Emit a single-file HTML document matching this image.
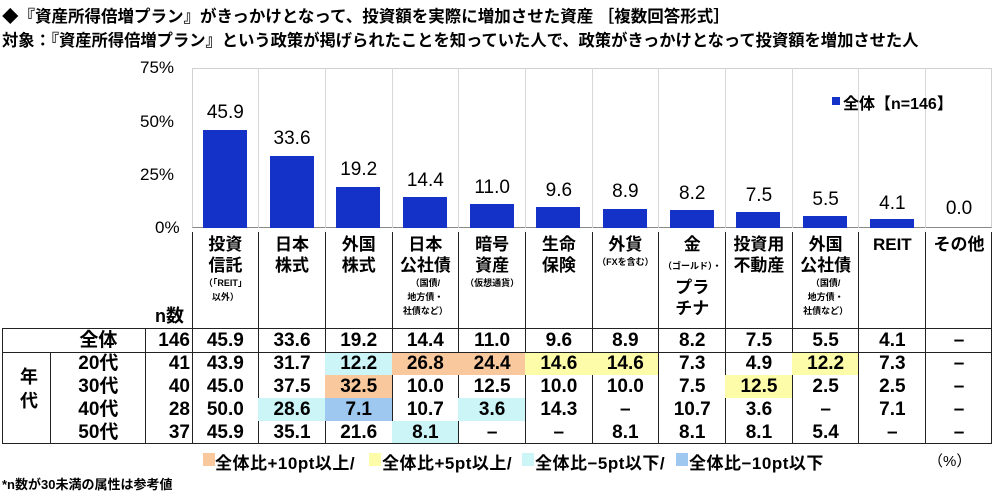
<!DOCTYPE html><html><head><meta charset="utf-8"><style>
body{margin:0;width:1000px;height:500px;background:#fff;position:relative;overflow:hidden;font-family:"Liberation Sans","Noto Sans CJK JP",sans-serif;font-weight:bold;color:#000}
.a{position:absolute}
.t{position:absolute;white-space:nowrap}
.bar{position:absolute;background:#1432c8;width:44px}
.v{position:absolute;width:66.7px;text-align:center;font-size:19px;font-weight:normal}
.h{position:absolute;width:66.7px;text-align:center;font-size:17px;line-height:21px;top:234px}
.h small{display:block;font-size:9px;line-height:14px}
.c{position:absolute;width:66.7px;height:22.8px;text-align:center;font-size:19px;line-height:23px}
.gl{position:absolute;width:1px;background:#d8d8d8;top:68px;height:160px}
.vl{position:absolute;width:1px;background:#222;top:232px;height:212px}
.lg{position:absolute;white-space:nowrap;font-size:17px;top:449px;letter-spacing:0.5px}
</style></head><body>
<div class="t" style="left:2px;top:3px;font-size:16.5px">◆『資産所得倍増プラン』がきっかけとなって、投資額を実際に増加させた資産 ［複数回答形式］</div>
<div class="t" style="left:2px;top:27px;font-size:16.3px">対象：『資産所得倍増プラン』という政策が掲げられたことを知っていた人で、政策がきっかけとなって投資額を増加させた人</div>
<div class="t" style="left:140px;top:58px;font-size:17px;font-weight:normal">75%</div>
<div class="t" style="left:140px;top:112px;font-size:17px;font-weight:normal">50%</div>
<div class="t" style="left:140px;top:165px;font-size:17px;font-weight:normal">25%</div>
<div class="t" style="left:155px;top:218px;font-size:17px;font-weight:normal">0%</div>
<div class="a" style="left:192px;top:68px;width:800px;height:160px;border:1px solid #d0d0d0;border-bottom:1px solid #888;box-sizing:border-box"></div>
<div class="gl" style="left:258px"></div><div class="gl" style="left:325px"></div><div class="gl" style="left:392px"></div><div class="gl" style="left:458px"></div><div class="gl" style="left:525px"></div><div class="gl" style="left:592px"></div><div class="gl" style="left:658px"></div><div class="gl" style="left:725px"></div><div class="gl" style="left:792px"></div><div class="gl" style="left:858px"></div><div class="gl" style="left:925px"></div>
<div class="a" style="left:832px;top:97px;width:8px;height:8px;background:#1432c8"></div>
<div class="t" style="left:843px;top:90px;font-size:16px">全体【n=146】</div>
<div class="bar" style="left:203px;top:130px;height:98px"></div>
<div class="bar" style="left:270px;top:156px;height:72px"></div>
<div class="bar" style="left:336px;top:187px;height:41px"></div>
<div class="bar" style="left:403px;top:197px;height:31px"></div>
<div class="bar" style="left:470px;top:204px;height:24px"></div>
<div class="bar" style="left:536px;top:207px;height:21px"></div>
<div class="bar" style="left:603px;top:209px;height:19px"></div>
<div class="bar" style="left:670px;top:210px;height:18px"></div>
<div class="bar" style="left:736px;top:212px;height:16px"></div>
<div class="bar" style="left:803px;top:216px;height:12px"></div>
<div class="bar" style="left:870px;top:219px;height:9px"></div>
<div class="v" style="left:192px;top:102px">45.9</div>
<div class="v" style="left:258.7px;top:128px">33.6</div>
<div class="v" style="left:325.4px;top:159px">19.2</div>
<div class="v" style="left:392px;top:170px">14.4</div>
<div class="v" style="left:458.8px;top:177px">11.0</div>
<div class="v" style="left:525.5px;top:180px">9.6</div>
<div class="v" style="left:592px;top:181px">8.9</div>
<div class="v" style="left:658.9px;top:183px">8.2</div>
<div class="v" style="left:725.6px;top:185px">7.5</div>
<div class="v" style="left:792.3px;top:189px">5.5</div>
<div class="v" style="left:859px;top:193px">4.1</div>
<div class="v" style="left:925.7px;top:198px">0.0</div>
<div class="vl" style="left:192px"></div><div class="vl" style="left:258px"></div><div class="vl" style="left:325px"></div><div class="vl" style="left:392px"></div><div class="vl" style="left:458px"></div><div class="vl" style="left:525px"></div><div class="vl" style="left:592px"></div><div class="vl" style="left:658px"></div><div class="vl" style="left:725px"></div><div class="vl" style="left:792px"></div><div class="vl" style="left:858px"></div><div class="vl" style="left:925px"></div><div class="vl" style="left:991px"></div>
<div class="h" style="left:192px">投資<br>信託<small>（「REIT」<br>以外）</small></div>
<div class="h" style="left:258.7px">日本<br>株式</div>
<div class="h" style="left:325.4px">外国<br>株式</div>
<div class="h" style="left:392px">日本<br>公社債<small>（国債/<br>地方債・<br>社債など）</small></div>
<div class="h" style="left:458.8px">暗号<br>資産<small>（仮想通貨）</small></div>
<div class="h" style="left:525.5px">生命<br>保険</div>
<div class="h" style="left:592px">外貨<small>（FXを含む）</small></div>
<div class="h" style="left:658.9px">金<small style="margin:4px 0">（ゴールド）・</small>プラ<br>チナ</div>
<div class="h" style="left:725.6px">投資用<br>不動産</div>
<div class="h" style="left:792.3px">外国<br>公社債<small>（国債/<br>地方債・<br>社債など）</small></div>
<div class="h" style="left:859px">REIT</div>
<div class="h" style="left:925.7px">その他</div>
<div class="t" style="left:155px;top:302px;font-size:18px">n数</div>
<div class="a" style="left:325px;top:352px;width:67px;height:23px;background:#ccf5f8"></div>
<div class="a" style="left:392px;top:352px;width:133px;height:23px;background:#f9c89c"></div>
<div class="a" style="left:525px;top:352px;width:133px;height:23px;background:#fdfca8"></div>
<div class="a" style="left:792px;top:352px;width:66px;height:23px;background:#fdfca8"></div>
<div class="a" style="left:325px;top:375px;width:67px;height:23px;background:#f9c89c"></div>
<div class="a" style="left:725px;top:375px;width:67px;height:23px;background:#fdfca8"></div>
<div class="a" style="left:258px;top:398px;width:67px;height:23px;background:#ccf5f8"></div>
<div class="a" style="left:325px;top:398px;width:67px;height:23px;background:#9fc8f0"></div>
<div class="a" style="left:458px;top:398px;width:67px;height:23px;background:#ccf5f8"></div>
<div class="a" style="left:392px;top:421px;width:66px;height:22px;background:#ccf5f8"></div>
<div class="a" style="left:2px;top:328px;width:990px;height:116px;border:1px solid #222;box-sizing:border-box"></div>
<div class="a" style="left:2px;top:352px;width:990px;height:1px;background:#222"></div>
<div class="a" style="left:50px;top:352px;width:1px;height:92px;background:#222"></div>
<div class="a" style="left:145px;top:328px;width:1px;height:116px;background:#222"></div>
<div class="t" style="left:20px;top:365px;font-size:18px;line-height:24px">年<br>代</div>
<div style="position:absolute;left:0;top:329px;font-size:18px">
<div class="c" style="left:65px;top:0">全体</div>
<div class="c" style="left:65px;top:23px">20代</div>
<div class="c" style="left:65px;top:46px">30代</div>
<div class="c" style="left:65px;top:69px">40代</div>
<div class="c" style="left:65px;top:92px">50代</div>
</div>
<div style="position:absolute;left:0;top:329px">
<div class="c" style="left:145px;top:0;width:45px;text-align:right">146</div><div class="c" style="left:145px;top:23px;width:45px;text-align:right">41</div><div class="c" style="left:145px;top:46px;width:45px;text-align:right">40</div><div class="c" style="left:145px;top:69px;width:45px;text-align:right">28</div><div class="c" style="left:145px;top:92px;width:45px;text-align:right">37</div>
<div class="c" style="left:192px;top:0">45.9</div><div class="c" style="left:258.7px;top:0">33.6</div><div class="c" style="left:325.4px;top:0">19.2</div><div class="c" style="left:392px;top:0">14.4</div><div class="c" style="left:458.8px;top:0">11.0</div><div class="c" style="left:525.5px;top:0">9.6</div><div class="c" style="left:592px;top:0">8.9</div><div class="c" style="left:658.9px;top:0">8.2</div><div class="c" style="left:725.6px;top:0">7.5</div><div class="c" style="left:792.3px;top:0">5.5</div><div class="c" style="left:859px;top:0">4.1</div><div class="c" style="left:925.7px;top:0">–</div>
<div class="c" style="left:192px;top:23px">43.9</div><div class="c" style="left:258.7px;top:23px">31.7</div><div class="c" style="left:325.4px;top:23px">12.2</div><div class="c" style="left:392px;top:23px">26.8</div><div class="c" style="left:458.8px;top:23px">24.4</div><div class="c" style="left:525.5px;top:23px">14.6</div><div class="c" style="left:592px;top:23px">14.6</div><div class="c" style="left:658.9px;top:23px">7.3</div><div class="c" style="left:725.6px;top:23px">4.9</div><div class="c" style="left:792.3px;top:23px">12.2</div><div class="c" style="left:859px;top:23px">7.3</div><div class="c" style="left:925.7px;top:23px">–</div>
<div class="c" style="left:192px;top:46px">45.0</div><div class="c" style="left:258.7px;top:46px">37.5</div><div class="c" style="left:325.4px;top:46px">32.5</div><div class="c" style="left:392px;top:46px">10.0</div><div class="c" style="left:458.8px;top:46px">12.5</div><div class="c" style="left:525.5px;top:46px">10.0</div><div class="c" style="left:592px;top:46px">10.0</div><div class="c" style="left:658.9px;top:46px">7.5</div><div class="c" style="left:725.6px;top:46px">12.5</div><div class="c" style="left:792.3px;top:46px">2.5</div><div class="c" style="left:859px;top:46px">2.5</div><div class="c" style="left:925.7px;top:46px">–</div>
<div class="c" style="left:192px;top:69px">50.0</div><div class="c" style="left:258.7px;top:69px">28.6</div><div class="c" style="left:325.4px;top:69px">7.1</div><div class="c" style="left:392px;top:69px">10.7</div><div class="c" style="left:458.8px;top:69px">3.6</div><div class="c" style="left:525.5px;top:69px">14.3</div><div class="c" style="left:592px;top:69px">–</div><div class="c" style="left:658.9px;top:69px">10.7</div><div class="c" style="left:725.6px;top:69px">3.6</div><div class="c" style="left:792.3px;top:69px">–</div><div class="c" style="left:859px;top:69px">7.1</div><div class="c" style="left:925.7px;top:69px">–</div>
<div class="c" style="left:192px;top:92px">45.9</div><div class="c" style="left:258.7px;top:92px">35.1</div><div class="c" style="left:325.4px;top:92px">21.6</div><div class="c" style="left:392px;top:92px">8.1</div><div class="c" style="left:458.8px;top:92px">–</div><div class="c" style="left:525.5px;top:92px">–</div><div class="c" style="left:592px;top:92px">8.1</div><div class="c" style="left:658.9px;top:92px">8.1</div><div class="c" style="left:725.6px;top:92px">8.1</div><div class="c" style="left:792.3px;top:92px">5.4</div><div class="c" style="left:859px;top:92px">–</div><div class="c" style="left:925.7px;top:92px">–</div>
</div>
<div class="a" style="left:203px;top:453px;width:12px;height:13px;background:#f9c89c"></div>
<div class="lg" style="left:215px">全体比+10pt以上/</div>
<div class="a" style="left:369px;top:453px;width:12px;height:13px;background:#fdfca8"></div>
<div class="lg" style="left:382px">全体比+5pt以上/</div>
<div class="a" style="left:522px;top:453px;width:12px;height:13px;background:#ccf5f8"></div>
<div class="lg" style="left:535px">全体比−5pt以下/</div>
<div class="a" style="left:676px;top:453px;width:12px;height:13px;background:#9fc8f0"></div>
<div class="lg" style="left:689px">全体比−10pt以下</div>
<div class="t" style="left:928px;top:450px;font-size:15px;font-weight:normal">（%）</div>
<div class="t" style="left:2px;top:474px;font-size:13px">*n数が30未満の属性は参考値</div>
</body></html>
